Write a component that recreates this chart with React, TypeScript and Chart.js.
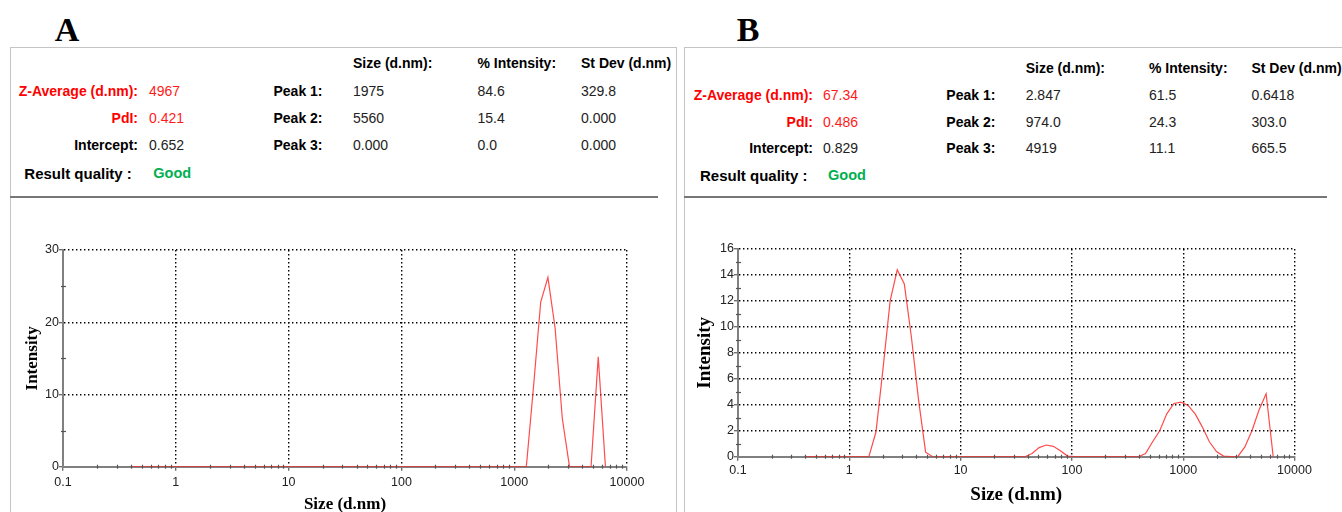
import React, { useEffect, useRef } from 'react';
import { Chart, registerables } from 'chart.js';

Chart.register(...registerables);

// ---------- data ----------
const SIZE_CLASSES = [
  0.4, 0.4632, 0.5365, 0.6213, 0.7195, 0.8332, 0.9649, 1.117, 1.294, 1.499,
  1.736, 2.01, 2.328, 2.696, 3.122, 3.615, 4.187, 4.849, 5.615, 6.503,
  7.531, 8.721, 10.1, 11.7, 13.54, 15.69, 18.17, 21.04, 24.36, 28.21,
  32.67, 37.84, 43.82, 50.75, 58.77, 68.06, 78.82, 91.28, 105.7, 122.4,
  141.8, 164.2, 190.1, 220.2, 255.0, 295.3, 342.0, 396.1, 458.7, 531.2,
  615.1, 712.4, 825.0, 955.4, 1106, 1281, 1484, 1718, 1990, 2305,
  2669, 3091, 3580, 4145, 4801, 5560, 6439,
];

const INTENSITY_A = [
  0, 0, 0, 0, 0, 0, 0, 0, 0, 0,
  0, 0, 0, 0, 0, 0, 0, 0, 0, 0,
  0, 0, 0, 0, 0, 0, 0, 0, 0, 0,
  0, 0, 0, 0, 0, 0, 0, 0, 0, 0,
  0, 0, 0, 0, 0, 0, 0, 0, 0, 0,
  0, 0, 0, 0, 0, 0, 11.1, 22.8, 26.2, 19.2,
  6.7, 0, 0, 0, 0, 15.2, 0,
];

const INTENSITY_B = [
  0, 0, 0, 0, 0, 0, 0, 0, 0, 0,
  1.9, 6.8, 12.0, 14.4, 13.3, 9.2, 4.4, 0.35, 0, 0,
  0, 0, 0, 0, 0, 0, 0, 0, 0, 0,
  0, 0, 0.25, 0.7, 0.9, 0.8, 0.45, 0.05, 0, 0,
  0, 0, 0, 0, 0, 0, 0, 0, 0.25, 1.15,
  2.0, 3.3, 4.1, 4.2, 3.95, 3.3, 2.3, 1.15, 0.4, 0.05,
  0, 0, 0.75, 2.0, 3.6, 4.85, 0,
];

const X_TICKS = [0.1, 1, 10, 100, 1000, 10000];
const X_TICK_LABELS = ['0.1', '1', '10', '100', '1000', '10000'];
const X_MINOR_DECADES = [0.1, 1, 10, 100, 1000];
const X_MINOR_MULTIPLIERS = [2, 3, 4, 5, 6, 7, 8, 9];

const Y_TICKS_A = [0, 10, 20, 30];
const Y_MINOR_A = [5, 15, 25];
const Y_TICKS_B = [0, 2, 4, 6, 8, 10, 12, 14, 16];
const Y_MINOR_B = [1, 3, 5, 7, 9, 11, 13, 15];

const SUMMARY_LABELS = ['Z-Average (d.nm):', 'PdI:', 'Intercept:'];
const SUMMARY_COLORS = ['#ff0000', '#ff0000', '#000000'];
const SUMMARY_A = ['4967', '0.421', '0.652'];
const SUMMARY_B = ['67.34', '0.486', '0.829'];
const PEAK_LABELS = ['Peak 1:', 'Peak 2:', 'Peak 3:'];
const PEAK_HEADERS = ['Size (d.nm):', '% Intensity:', 'St Dev (d.nm)'];
const PEAKS_A = [
  ['1975', '84.6', '329.8'],
  ['5560', '15.4', '0.000'],
  ['0.000', '0.0', '0.000'],
];
const PEAKS_B = [
  ['2.847', '61.5', '0.6418'],
  ['974.0', '24.3', '303.0'],
  ['4919', '11.1', '665.5'],
];
const QUALITY_LABEL = 'Result quality :';
const QUALITY_A = 'Good';
const QUALITY_B = 'Good';

// ---------- styles ----------
const SANS = '"Liberation Sans", Arial, Helvetica, sans-serif';
const SERIF = '"Liberation Serif", "Times New Roman", Times, serif';

const minorTickPlugin = {
  id: 'minorTicks',
  afterDraw(chart: any, _args: any, opts: any) {
    const { ctx, chartArea } = chart;
    const xs = chart.scales.x;
    const ys = chart.scales.y;
    ctx.save();
    ctx.strokeStyle = opts.color || '#555';
    ctx.lineWidth = 1.2;
    ctx.setLineDash([]);
    const yb = chartArea.bottom;
    for (const d of X_MINOR_DECADES) {
      for (const m of X_MINOR_MULTIPLIERS) {
        const px = Math.round(xs.getPixelForValue(d * m)) + 0.5;
        ctx.beginPath();
        ctx.moveTo(px, yb - 2);
        ctx.lineTo(px, yb + 2);
        ctx.stroke();
      }
    }
    const xl = chartArea.left;
    for (const v of opts.yMinor || []) {
      const py = Math.round(ys.getPixelForValue(v)) + 0.5;
      ctx.beginPath();
      ctx.moveTo(xl - 2, py);
      ctx.lineTo(xl + 3, py);
      ctx.stroke();
    }
    ctx.restore();
  },
};

type ChartProps = {
  left: number; top: number; width: number; height: number;
  values: number[]; yMax: number; yTicks: number[]; yMinor: number[];
  yAxisWidth: number; xAxisHeight: number; padTop: number; padRight: number;
  titleSize: number; yTitlePad: number; xTitlePad: number; xTickPad: number;
};

function gridOptions() {
  return {
    color: (c: any) => (c.index === 0 ? 'rgba(0,0,0,0)' : '#000'),
    lineWidth: 1.4,
    drawTicks: true,
    tickLength: 4,
    tickColor: '#666',
    tickWidth: 1.3,
    tickBorderDash: [],
  } as any;
}

function DlsChart(p: ChartProps) {
  const ref = useRef<HTMLCanvasElement | null>(null);
  useEffect(() => {
    if (!ref.current) return;
    const points = SIZE_CLASSES.map((s, i) => ({ x: s, y: p.values[i] }));
    const chart = new Chart(ref.current, {
      type: 'line',
      data: {
        datasets: [
          {
            data: points,
            borderColor: 'rgba(255,30,30,0.8)',
            borderWidth: 1.2,
            pointRadius: 0,
            tension: 0,
            fill: false,
          },
        ],
      },
      plugins: [minorTickPlugin],
      options: {
        animation: false,
        responsive: false,
        maintainAspectRatio: false,
        devicePixelRatio: 1,
        events: [],
        layout: { padding: { left: 0, top: p.padTop, right: p.padRight, bottom: 0 } },
        plugins: {
          legend: { display: false },
          tooltip: { enabled: false },
          minorTicks: { yMinor: p.yMinor, color: '#555' },
        } as any,
        scales: {
          x: {
            type: 'logarithmic',
            position: 'bottom',
            min: 0.1,
            max: 10000,
            afterBuildTicks: (s: any) => {
              s.ticks = X_TICKS.map((v) => ({ value: v }));
            },
            afterFit: (s: any) => {
              s.height = p.xAxisHeight;
            },
            ticks: {
              autoSkip: false,
              maxRotation: 0,
              minRotation: 0,
              padding: p.xTickPad,
              color: '#222',
              font: { family: SANS, size: 12.5 },
              callback: (_v: any, i: number) => X_TICK_LABELS[i],
            },
            grid: gridOptions(),
            border: { display: true, color: '#808080', width: 2, dash: [1.4, 2.6] },
            title: {
              display: true,
              text: 'Size (d.nm)',
              color: '#000',
              font: { family: SERIF, size: p.titleSize, weight: 'bold' },
              padding: { top: 0, bottom: p.xTitlePad },
            },
          },
          y: {
            type: 'linear',
            min: 0,
            max: p.yMax,
            afterBuildTicks: (s: any) => {
              s.ticks = p.yTicks.map((v) => ({ value: v }));
            },
            afterFit: (s: any) => {
              s.width = p.yAxisWidth;
            },
            ticks: {
              padding: 0,
              color: '#222',
              font: { family: SANS, size: 12.5 },
            },
            grid: gridOptions(),
            border: { display: true, color: '#808080', width: 2, dash: [1.4, 2.6] },
            title: {
              display: true,
              text: 'Intensity',
              color: '#000',
              font: { family: SERIF, size: p.titleSize, weight: 'bold' },
              padding: { top: p.yTitlePad, bottom: 0 },
            },
          },
        },
      } as any,
    });
    return () => chart.destroy();
  }, []);
  return (
    <canvas
      ref={ref}
      width={p.width}
      height={p.height}
      style={{ position: 'absolute', left: p.left, top: p.top, width: p.width, height: p.height }}
    />
  );
}

type TProps = {
  x: number; y: number; children: React.ReactNode; align?: 'left' | 'right';
  size?: number; weight?: string | number; color?: string;
};

function T({ x, y, children, align = 'left', size = 14, weight = 'bold', color = '#000' }: TProps) {
  const right = align === 'right';
  return (
    <div
      style={{
        position: 'absolute',
        left: right ? x - 300 : x,
        top: y,
        width: right ? 300 : undefined,
        textAlign: align,
        transform: 'translateY(-50%)',
        fontFamily: SANS,
        fontSize: size,
        fontWeight: weight as any,
        color,
        lineHeight: 1,
        whiteSpace: 'nowrap',
      }}
    >
      {children}
    </div>
  );
}

type PanelProps = {
  boxLeft: number; boxTop: number; boxWidth: number;
  labelRight: number; valueX: number; peakX: number; colX: number[];
  headerY: number; rowsY: number[]; rqX: number; rqY: number; goodX: number;
  summary: string[]; peaks: string[][]; quality: string;
};

function Header(p: PanelProps) {
  return (
    <div
      style={{
        position: 'absolute',
        left: p.boxLeft,
        top: p.boxTop,
        width: p.boxWidth,
        height: 520,
        border: '1px solid #c4c4c4',
        overflow: 'hidden',
      }}
    >
      <div style={{ position: 'absolute', left: -(p.boxLeft + 1), top: -(p.boxTop + 1) }}>
        {PEAK_HEADERS.map((h, i) => (
          <T key={'h' + i} x={p.colX[i]} y={p.headerY}>{h}</T>
        ))}
        {SUMMARY_LABELS.map((l, i) => (
          <T key={'l' + i} x={p.labelRight} y={p.rowsY[i]} align="right" color={SUMMARY_COLORS[i]}>{l}</T>
        ))}
        {p.summary.map((v, i) => (
          <T key={'v' + i} x={p.valueX} y={p.rowsY[i]} weight="normal" color={i < 2 ? '#ff1a1a' : '#222'}>{v}</T>
        ))}
        {PEAK_LABELS.map((l, i) => (
          <T key={'p' + i} x={p.peakX} y={p.rowsY[i]}>{l}</T>
        ))}
        {p.peaks.map((row, r) =>
          row.map((v, c) => (
            <T key={'c' + r + c} x={p.colX[c]} y={p.rowsY[r]} weight="normal" color="#222">{v}</T>
          ))
        )}
        <T x={p.rqX} y={p.rqY} size={15}>{QUALITY_LABEL}</T>
        <T x={p.goodX} y={p.rqY} size={14.5} color="#00b050">{p.quality}</T>
      </div>
    </div>
  );
}

function Letter({ x, y, text }: { x: number; y: number; text: string }) {
  return (
    <div
      style={{
        position: 'absolute',
        left: x,
        top: y,
        transform: 'translate(-50%, -50%)',
        fontFamily: SERIF,
        fontWeight: 'bold',
        fontSize: 34,
        lineHeight: 1,
        color: '#000',
      }}
    >
      {text}
    </div>
  );
}

export default function App() {
  return (
    <div
      style={{
        position: 'absolute',
        left: 0,
        top: 0,
        width: 1342,
        height: 512,
        overflow: 'hidden',
        background: '#fff',
      }}
    >
      <Letter x={67} y={30} text="A" />
      <Letter x={748} y={30} text="B" />
      <Header
        boxLeft={10} boxTop={47} boxWidth={665}
        labelRight={138} valueX={149} peakX={273.5} colX={[353, 477.5, 581]}
        headerY={62.7} rowsY={[90.7, 117.5, 145.3]} rqX={24.3} rqY={172.7} goodX={153.3}
        summary={SUMMARY_A} peaks={PEAKS_A} quality={QUALITY_A}
      />
      <Header
        boxLeft={684} boxTop={47} boxWidth={700}
        labelRight={813} valueX={823} peakX={946.3} colX={[1025.7, 1149, 1251.4]}
        headerY={68.3} rowsY={[95, 121.7, 147.7]} rqX={700} rqY={175} goodX={828}
        summary={SUMMARY_B} peaks={PEAKS_B} quality={QUALITY_B}
      />
      <div style={{ position: 'absolute', left: 10, top: 196, width: 648, height: 2, background: '#777' }} />
      <div style={{ position: 'absolute', left: 684, top: 196, width: 643, height: 2, background: '#777' }} />
      <DlsChart
        left={12} top={230} width={650} height={300}
        values={INTENSITY_A} yMax={30} yTicks={Y_TICKS_A} yMinor={Y_MINOR_A}
        yAxisWidth={51} xAxisHeight={63.3} padTop={20} padRight={35}
        titleSize={17} yTitlePad={10.3} xTitlePad={15.3} xTickPad={4}
      />
      <DlsChart
        left={686} top={225} width={640} height={300}
        values={INTENSITY_B} yMax={16} yTicks={Y_TICKS_B} yMinor={Y_MINOR_B}
        yAxisWidth={52} xAxisHeight={68.3} padTop={24} padRight={31.5}
        titleSize={19} yTitlePad={7.6} xTitlePad={18.6} xTickPad={2}
      />
    </div>
  );
}
